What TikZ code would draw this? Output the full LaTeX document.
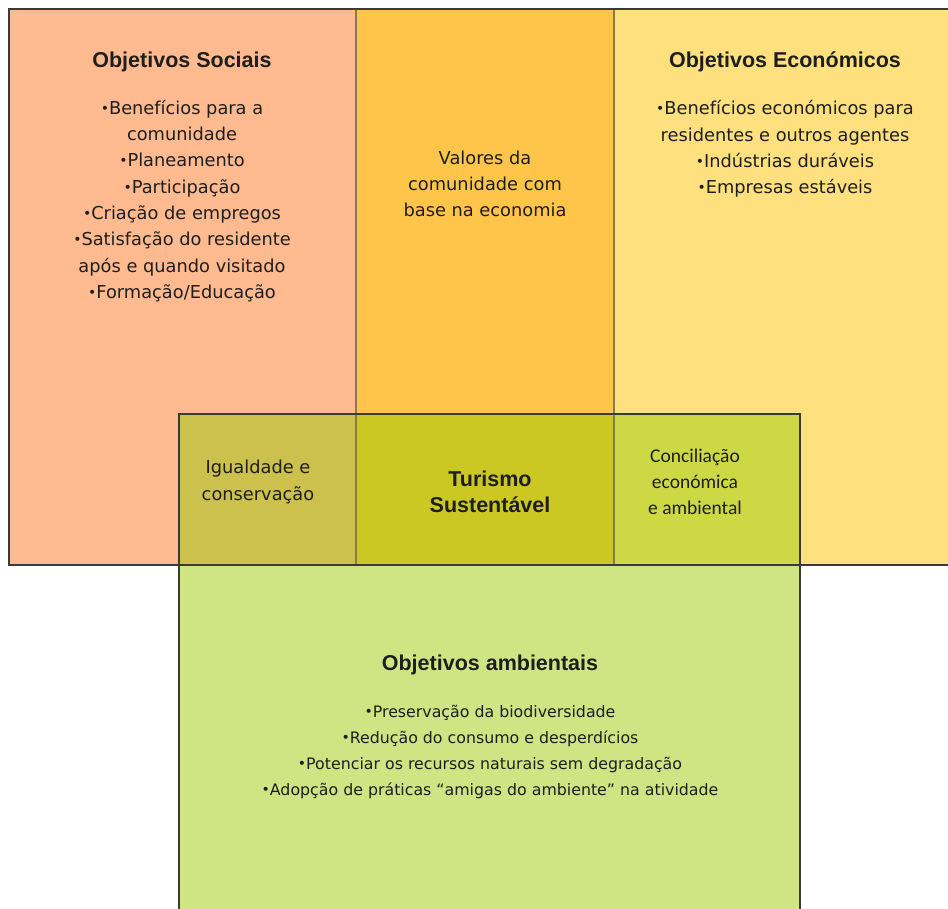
\documentclass[tikz,border=0pt]{standalone}
\usepackage{fontspec}
\setmainfont{DejaVu Sans}
\newfontfamily\headfont{Liberation Sans}
\newfontfamily\calfont{Carlito}
\definecolor{socialfill}{HTML}{FFBB8F}
\definecolor{valuefill}{HTML}{FFC44A}
\definecolor{econfill}{HTML}{FFE07F}
\definecolor{envfill}{HTML}{CFE584}
\definecolor{lapleft}{HTML}{CCC14C}
\definecolor{lapmid}{HTML}{CCC823}
\definecolor{lapright}{HTML}{CDD944}
\definecolor{edge}{HTML}{3A3A3A}
\definecolor{divider}{HTML}{8A7A50}
\definecolor{ink}{HTML}{1E1E1E}
\newcommand{\bul}{{\fontsize{14}{14}\selectfont\raisebox{1pt}{•}}}
\begin{document}
\begin{tikzpicture}[x=1pt,y=-1pt,
  heading/.style={font=\headfont\bfseries\fontsize{21.5}{26}\selectfont, text=ink, inner sep=0pt},
  body/.style={font=\fontsize{17.8}{26.3}\selectfont, text=ink, align=center, inner sep=0pt},
  envbody/.style={font=\fontsize{15.8}{26}\selectfont, text=ink, align=center, inner sep=0pt},
  calbody/.style={font=\calfont\fontsize{19.5}{26}\selectfont, text=ink, align=center, inner sep=0pt},
  frame/.style={draw=edge, line width=1.4pt},
  sep/.style={draw=divider, line width=1.1pt}]
\useasboundingbox (0,0) rectangle (948,908);
\clip (0,0) rectangle (948,908);

% column fills of the upper band
\fill[socialfill] (9,9) rectangle (356,565);
\fill[valuefill] (356,9) rectangle (614,565);
\fill[econfill] (614,9) rectangle (960,565);

% environmental box and its overlaps with the upper band
\fill[envfill] (179,414) rectangle (800,920);
\fill[lapleft] (179,414) rectangle (356,565);
\fill[lapmid] (356,414) rectangle (614,565);
\fill[lapright] (614,414) rectangle (800,565);

% outlines
\draw[sep] (356,9) -- (356,565);
\draw[sep] (614,9) -- (614,565);
\draw[frame] (960,9) -- (9,9) -- (9,565) -- (960,565);
\draw[frame] (179,920) -- (179,414) -- (800,414) -- (800,920);

% social objectives
\node[heading] (socialhead) at (182,62) {Objetivos Sociais};
\node[body] (sociallist) at (182,201) {\bul Benefícios para a\\comunidade\\\bul Planeamento\\\bul Participação\\\bul Criação de empregos\\\bul Satisfação do residente\\após e quando visitado\\\bul Formação/Educação};

% community values
\node[body] (values) at (485,184) {Valores da\\comunidade com\\base na economia};

% economic objectives
\node[heading] (econhead) at (785,62) {Objetivos Económicos};
\node[body] (econlist) at (785,149) {\bul Benefícios económicos para\\residentes e outros agentes\\\bul Indústrias duráveis\\\bul Empresas estáveis};

% intersections
\node[body] (equality) at (258,482) {Igualdade e\\conservação};
\node[heading, align=center] (core) at (490,492) {Turismo\\Sustentável};
\node[calbody] (concil) at (695,482) {Conciliação\\económica\\e ambiental};

% environmental objectives
\node[heading] (envhead) at (490,665) {Objetivos ambientais};
\node[envbody] (envlist) at (490,752) {\bul Preservação da biodiversidade\\\bul Redução do consumo  e desperdícios\\\bul Potenciar os recursos naturais sem degradação\\\bul Adopção de práticas “amigas do ambiente” na atividade};
\end{tikzpicture}
\end{document}
